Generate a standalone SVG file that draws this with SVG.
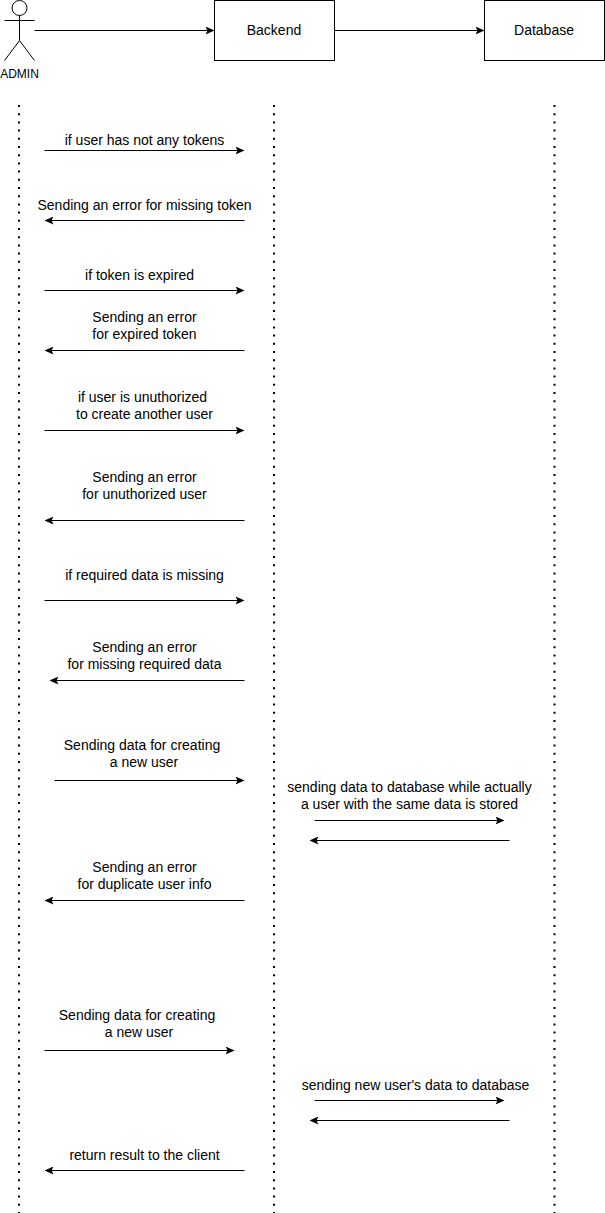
<svg xmlns="http://www.w3.org/2000/svg" width="605" height="1213" viewBox="0 0 605 1213">
<style>
text{font-family:"Liberation Sans",Arial,sans-serif;font-size:14px;fill:#000;text-anchor:middle}
.n{fill:#fff;stroke:#000;stroke-width:1}
.c{stroke:#000;stroke-width:1;fill:none;marker-end:url(#a)}
.l{stroke:#000;stroke-width:2;stroke-dasharray:2 6.2;fill:none}
</style>
<defs><marker id="a" markerUnits="userSpaceOnUse" markerWidth="9" markerHeight="8" refX="8" refY="4" orient="auto"><path d="M0 0L9 4L0 8L2 4Z" fill="#000"/></marker></defs>
<rect width="605" height="1213" fill="#fff"/>
<g id="admin"><circle class="n" cx="19.500" cy="8" r="7.500"/><path class="n" d="M19.500 15.500V40.500M19.500 40.500L4.500 60.500M19.500 40.500L34.500 60.500M4.500 20.500H34.500"/><text x="19.500" y="78" style="font-size:12px">ADMIN</text></g>
<g id="backend"><rect class="n" x="214.500" y="0.500" width="120" height="60"/><text x="274" y="35">Backend</text></g>
<g id="database"><rect class="n" x="484.500" y="0.500" width="120" height="60"/><text x="544" y="35">Database</text></g>
<g id="connectors">
<path class="l" d="M19 105V1213"/><path class="l" d="M274 105V1213"/><path class="l" d="M554.500 105V1213"/>
<path class="c" d="M34.500 30.500H213.500"/><path class="c" d="M334.500 30.500H483.500"/>
<path class="c" d="M44.500 150.500H243.500"/><path class="c" d="M244.500 220.500H45.500"/>
<path class="c" d="M44.500 290.500H243.500"/><path class="c" d="M244.500 350.500H45.500"/>
<path class="c" d="M44.500 430.500H243.500"/><path class="c" d="M244.500 520.500H45.500"/>
<path class="c" d="M44.500 600.500H243.500"/><path class="c" d="M244.500 680.500H50.500"/>
<path class="c" d="M54.500 780.500H243.500"/><path class="c" d="M314.500 820.500H503.500"/><path class="c" d="M509.500 840.500H310.500"/><path class="c" d="M244.500 900.500H45.500"/>
<path class="c" d="M44.500 1050.500H233.500"/><path class="c" d="M314.500 1100.500H503.500"/><path class="c" d="M509.500 1120.500H310.500"/><path class="c" d="M244.500 1170.500H45.500"/>
</g>
<g id="labels">
<text x="144.500" y="145">if user has not any tokens</text>
<text x="144.500" y="210">Sending an error for missing token</text>
<text x="139.500" y="280">if token is expired</text>
<text x="144.500" y="322">Sending an error</text><text x="144.500" y="339">for expired token</text>
<text x="142.500" y="402">if user is unuthorized</text><text x="144.500" y="419">to create another user</text>
<text x="144.500" y="482">Sending an error</text><text x="144.500" y="499">for unuthorized user</text>
<text x="144.500" y="580">if required data is missing</text>
<text x="144.500" y="652">Sending an error</text><text x="144.500" y="669">for missing required data</text>
<text x="142" y="750">Sending data for creating</text><text x="144" y="767">a new user</text>
<text x="409.500" y="792">sending data to database while actually</text><text x="409.500" y="809">a user with the same data is stored</text>
<text x="144.500" y="872">Sending an error</text><text x="144.500" y="889">for duplicate user info</text>
<text x="137" y="1020">Sending data for creating</text><text x="139" y="1037">a new user</text>
<text x="415.500" y="1090">sending new user's data to database</text>
<text x="144.500" y="1160">return result to the client</text>
</g>
</svg>
